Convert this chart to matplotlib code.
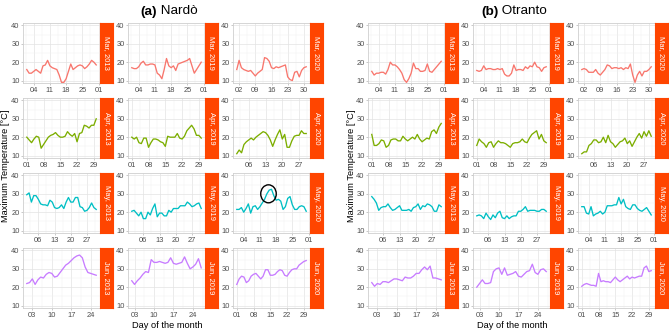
import datetime as dt
import matplotlib
matplotlib.use("Agg")
import matplotlib.pyplot as plt
import matplotlib.dates as mdates
from matplotlib.patches import Ellipse

plt.rcParams['font.family'] = ['Liberation Sans', 'DejaVu Sans']

# ---------------- data ----------------
SITES = ['Nardò', 'Otranto']
SITE_TAGS = ['(a)', '(b)']
MONTHS = [3, 4, 5, 6]
MONTH_LABELS = ['Mar', 'Apr', 'May', 'Jun']
YEARS = [2013, 2019, 2020]
START_DAY = {(6, 2019): 2}

nardo_mar_2013 = [16, 14, 14, 15, 16, 15, 14, 18, 18.5, 21, 18, 17, 16.5, 16, 13, 9, 9, 11, 15, 19,
                  16, 17, 18, 18.5, 18, 16.5, 17.5, 19, 21, 20, 18.5]
nardo_mar_2019 = [17, 16.5, 16.5, 17.5, 19.5, 20.5, 18.5, 18.5, 19, 19, 18.5, 14, 13, 11, 16, 22, 18, 17, 18, 15.5,
                  19, 19.5, 20, 20.5, 21, 22, 18, 14, 16, 18, 20]
nardo_mar_2020 = [16, 21, 17, 16, 15.5, 15, 15.5, 14, 12.5, 14, 15, 16, 22.5, 22, 20.5, 17, 16.5, 17.5, 17, 17.5,
                  18, 18.5, 12, 10.5, 10, 14.5, 15, 12, 15.5, 17, 17.5]
nardo_apr_2013 = [20, 18.5, 17, 19, 20.5, 20, 14, 16, 18, 20, 21, 21.5, 22.5, 21, 20, 20, 20.5, 23, 21.5, 20.5,
                  22, 17.5, 22, 22.5, 26.5, 26, 25, 26.5, 26.5, 30]
nardo_apr_2019 = [20, 19, 20, 17, 16.5, 19.5, 19.5, 14.5, 17, 19, 19, 18.5, 17.5, 17, 15, 20.5, 20, 20, 20, 22,
                  19.5, 19, 20.5, 23.5, 25, 26.5, 24.5, 21, 21, 19.5]
nardo_apr_2020 = [11, 13, 11.5, 16, 17.5, 18.5, 19.5, 18.5, 20, 21, 22, 23, 22.5, 21, 18.5, 15, 18.5, 21.5, 24, 19,
                  21.5, 14.5, 14.5, 18, 20.5, 21, 21, 23.5, 22, 22]
nardo_may_2013 = [29.5, 30.5, 25.5, 29, 29, 27, 24.5, 24, 24, 23.5, 26.5, 25.5, 22.5, 22, 22.5, 24, 22, 25.5, 28, 25.5,
                  25.5, 28, 28, 23, 22.5, 20.5, 21, 22.5, 25, 22.5, 21.5]
nardo_may_2019 = [20.5, 21, 19.5, 18, 20, 16.5, 16.5, 20, 18.5, 22, 24.5, 17.5, 19.5, 19.5, 18, 18, 21, 20, 22, 22,
                  22, 23.5, 23.5, 23.5, 25.5, 24.5, 23, 23.5, 24.5, 25, 22]
nardo_may_2020 = [21.5, 21.5, 22.5, 20, 22, 24.5, 19.5, 23, 23.5, 21.5, 23, 25, 27, 30, 32, 32.5, 29, 26.5, 27, 26,
                  21.5, 23, 27.5, 28.5, 24, 21.5, 21.5, 23, 23.5, 23, 20.5]
nardo_jun_2013 = [22, 22.5, 24.5, 21.5, 24, 25.5, 25, 27, 28, 27.5, 25.5, 26, 28, 30, 32, 33, 34.5, 36, 37, 37.5,
                  36, 31, 28, 27.5, 27, 26.5]
nardo_jun_2019 = [23.5, 21.5, 23.5, 25, 27, 28.5, 28, 35, 33.5, 33.5, 34, 33.5, 33, 33.5, 36, 33, 32.5, 33, 33.5, 36.5,
                  33, 30, 31, 32.5, 35.5, 30.5]
nardo_jun_2020 = [21.5, 24.5, 26, 25.5, 22.5, 23.5, 26, 27, 27.5, 26, 24.5, 26, 29.5, 29.5, 26.5, 26.5, 27, 28.5, 29.5, 29,
                  26.5, 26, 28, 29.5, 30, 30, 32, 33, 34, 34.5]

otranto_mar_2013 = [15, 13, 14, 14, 14.5, 14.5, 13.5, 16, 20, 18.5, 18.5, 17.5, 16, 14, 10.5, 9, 11, 14, 19.5, 16.5,
                    16.5, 15, 15, 15.5, 19, 15, 14.5, 16, 17.5, 19, 20.5]
otranto_mar_2019 = [15.5, 15, 15.5, 18, 16, 16.5, 16.5, 16, 16, 16.5, 16, 16.5, 13.5, 12.5, 12.5, 14, 18.5, 15.5, 16, 16,
                    15.5, 17.5, 16.5, 18, 17.5, 20, 17.5, 17, 15, 17, 17.5]
otranto_mar_2020 = [16, 16.5, 16, 14.5, 14.5, 14.5, 16, 14, 13, 14.5, 16, 18.5, 18, 16.5, 17, 17, 16.5, 17, 16, 17,
                    16.5, 19, 13, 9, 13, 15, 12.5, 15, 15, 16, 17.5]
otranto_apr_2013 = [21.5, 15.5, 15.5, 16.5, 18.5, 18, 14.5, 15.5, 18.5, 19, 19, 18, 18, 20.5, 19, 18, 19, 20, 19, 21.5,
                    19, 17.5, 18.5, 19.5, 19, 23, 24, 22, 25.5, 27.5]
otranto_apr_2019 = [15.5, 19, 17.5, 16.5, 14.5, 17, 17.5, 14.5, 16.5, 18, 17, 17, 16.5, 15.5, 14.5, 16.5, 17, 17, 17.5, 19,
                    17.5, 17, 19.5, 21.5, 22.5, 23.5, 19, 21.5, 18, 17]
otranto_apr_2020 = [11, 12, 12, 15.5, 16.5, 18.5, 18.5, 17, 17.5, 20, 17, 21, 17.5, 16.5, 14.5, 16, 17.5, 18, 19.5, 16.5,
                    18, 15, 17.5, 20, 22, 19.5, 23, 20.5, 23.5, 20.5]
otranto_may_2013 = [28.5, 27, 25, 21, 22.5, 23, 23, 24.5, 22.5, 21, 21.5, 22.5, 23.5, 21, 21, 21, 21.5, 20.5, 22.5, 23,
                    24.5, 21.5, 23.5, 23, 24.5, 24, 23, 20.5, 20.5, 24, 23]
otranto_may_2019 = [18, 18.5, 18, 16.5, 19.5, 17.5, 16, 18.5, 17, 19.5, 20.5, 17, 16.5, 18, 16.5, 17.5, 18, 18, 20.5, 20.5,
                    21.5, 23, 20.5, 21, 21, 21, 20.5, 20.5, 21.5, 21.5, 20.5]
otranto_may_2020 = [23, 23, 19.5, 19, 23, 18, 19, 19.5, 20.5, 19, 20, 23.5, 23.5, 23.5, 24, 24, 28, 24.5, 27, 23,
                    22, 21.5, 24, 24, 22, 21, 20.5, 21.5, 22.5, 20.5, 18.5]
otranto_jun_2013 = [22.5, 20.5, 22, 21.5, 23, 23, 22.5, 23.5, 24.5, 24.5, 24, 23.5, 25.5, 25, 25, 26, 27.5, 27.5, 29.5, 31,
                    29.5, 31.5, 25, 25, 24.5, 24]
otranto_jun_2019 = [20, 22, 24, 22, 22, 22.5, 28.5, 30, 30.5, 27, 30.5, 26.5, 27, 27.5, 28.5, 26, 25.5, 27, 28.5, 29,
                    32.5, 28, 27, 29.5, 30, 28.5]
otranto_jun_2020 = [20.5, 21.5, 22, 21.5, 21, 21, 20.5, 27.5, 23, 23.5, 23, 23, 22.5, 24, 25.5, 24, 23, 24, 25, 26,
                    24.5, 25.5, 25, 25.5, 26, 26, 30.5, 31.5, 28.5, 29]

SERIES = {
    ('Nardò', 3, 2013): nardo_mar_2013, ('Nardò', 3, 2019): nardo_mar_2019, ('Nardò', 3, 2020): nardo_mar_2020,
    ('Nardò', 4, 2013): nardo_apr_2013, ('Nardò', 4, 2019): nardo_apr_2019, ('Nardò', 4, 2020): nardo_apr_2020,
    ('Nardò', 5, 2013): nardo_may_2013, ('Nardò', 5, 2019): nardo_may_2019, ('Nardò', 5, 2020): nardo_may_2020,
    ('Nardò', 6, 2013): nardo_jun_2013, ('Nardò', 6, 2019): nardo_jun_2019, ('Nardò', 6, 2020): nardo_jun_2020,
    ('Otranto', 3, 2013): otranto_mar_2013, ('Otranto', 3, 2019): otranto_mar_2019, ('Otranto', 3, 2020): otranto_mar_2020,
    ('Otranto', 4, 2013): otranto_apr_2013, ('Otranto', 4, 2019): otranto_apr_2019, ('Otranto', 4, 2020): otranto_apr_2020,
    ('Otranto', 5, 2013): otranto_may_2013, ('Otranto', 5, 2019): otranto_may_2019, ('Otranto', 5, 2020): otranto_may_2020,
    ('Otranto', 6, 2013): otranto_jun_2013, ('Otranto', 6, 2019): otranto_jun_2019, ('Otranto', 6, 2020): otranto_jun_2020,
}

Y_TICKS = [10, 20, 30, 40]
Y_MINOR = [15, 25, 35]
Y_LIMITS = (8.5, 41.5)

# annotation: circle around the heat peak (Nardò, May 2020)
ANNOT_KEY = ('Nardò', 5, 2020)
ANNOT_DAY = 14.7
ANNOT_VAL = 30.0
ANNOT_W_DAYS = 6.7
ANNOT_H_VAL = 9.8

# ---------------- style / layout ----------------
LINE_COLORS = ['#F8766D', '#7CAE00', '#00BFC4', '#C77CFF']
STRIP_COLOR = '#FF4500'
TICK_COLOR = '#4D4D4D'
W, H = 669, 332
PANEL_DX = 345
COL_LEFT = [23.3, 128.3, 233.3]
PLOT_W = 76.4
STRIP_W = 13.3
ROW_TOP = [22.7, 97.7, 172.7, 247.7]
PLOT_H = 60.6

fig = plt.figure(figsize=(W / 100, H / 100), dpi=100)


def px_axes(x, y, w, h):
    return fig.add_axes([x / W, 1 - (y + h) / H, w / W, h / H])


for p, site in enumerate(SITES):
    for r, month in enumerate(MONTHS):
        for c, year in enumerate(YEARS):
            vals = SERIES[(site, month, year)]
            d0 = START_DAY.get((month, year), 1)
            dates = [dt.datetime(year, month, d0 + i) for i in range(len(vals))]
            x0 = PANEL_DX * p + COL_LEFT[c]
            y0 = ROW_TOP[r]
            ax = px_axes(x0, y0, PLOT_W, PLOT_H)
            ax.plot(dates, vals, color=LINE_COLORS[r], lw=0.95, solid_joinstyle='round', zorder=3)
            n0 = mdates.date2num(dates[0])
            n1 = mdates.date2num(dates[-1])
            span = n1 - n0
            lo, hi = n0 - 0.05 * span, n1 + 0.05 * span
            ax.set_xlim(lo, hi)
            ax.set_ylim(*Y_LIMITS)
            ax.set_yticks(Y_TICKS)
            ax.set_yticks(Y_MINOR, minor=True)
            ax.xaxis.set_major_locator(mdates.WeekdayLocator(byweekday=mdates.MO))
            ax.xaxis.set_major_formatter(mdates.DateFormatter('%d'))
            majors = [t for t in ax.get_xticks() if lo <= t <= hi]
            minors = [(a + b) / 2 for a, b in zip(majors[:-1], majors[1:])]
            if majors:
                if majors[0] - 3.5 >= lo:
                    minors.append(majors[0] - 3.5)
                if majors[-1] + 3.5 <= hi:
                    minors.append(majors[-1] + 3.5)
            ax.set_xticks(minors, minor=True)
            ax.grid(True, which='major', color='#E3E3E3', lw=0.5, zorder=0)
            ax.grid(True, which='minor', color='#F1F1F1', lw=0.35, zorder=0)
            ax.set_axisbelow(True)
            ax.tick_params(which='major', length=1.5, width=0.5, color='#B3B3B3', pad=1.2,
                           labelsize=5.4, labelcolor=TICK_COLOR)
            ax.tick_params(which='minor', length=0)
            for s in ax.spines.values():
                s.set_color('#CFCFCF')
                s.set_linewidth(0.6)
            if (site, month, year) == ANNOT_KEY:
                cx = mdates.date2num(dt.datetime(year, month, 1)) + ANNOT_DAY - 1
                ax.add_patch(Ellipse((cx, ANNOT_VAL), ANNOT_W_DAYS, ANNOT_H_VAL,
                                     fill=False, ec='black', lw=1.0, zorder=4))
            # strip
            sax = px_axes(x0 + PLOT_W, y0, STRIP_W, PLOT_H)
            sax.set_facecolor(STRIP_COLOR)
            sax.set_xticks([])
            sax.set_yticks([])
            for s in sax.spines.values():
                s.set_color(STRIP_COLOR)
            sax.text(0.5, 0.5, f"{MONTH_LABELS[r]}, {year}", rotation=270, color='white',
                     fontsize=5.5, ha='center', va='center', transform=sax.transAxes)

    # axis labels
    xc = PANEL_DX * p
    fig.text((xc + 6) / W, 1 - 165.5 / H, 'Maximum Temperature [°C]', rotation=90,
             ha='center', va='center', fontsize=6.7, color='black')
    fig.text((xc + 167) / W, 1 - 325.5 / H, 'Day of the month',
             ha='center', va='center', fontsize=6.7, color='black')

# titles with bold tag
renderer = fig.canvas.get_renderer()
for p, site in enumerate(SITES):
    cx = (PANEL_DX * p + 169) / W
    ty = 1 - 11.5 / H
    t1 = fig.text(cx, ty, SITE_TAGS[p], fontsize=9.7, fontweight='bold', ha='left', va='center')
    t2 = fig.text(cx, ty, ' ' + site, fontsize=9.7, ha='left', va='center')
    w1 = t1.get_window_extent(renderer).width / W
    w2 = t2.get_window_extent(renderer).width / W
    start = cx - (w1 + w2) / 2
    t1.set_x(start)
    t2.set_x(start + w1)

fig.savefig('out.png', dpi=100)
